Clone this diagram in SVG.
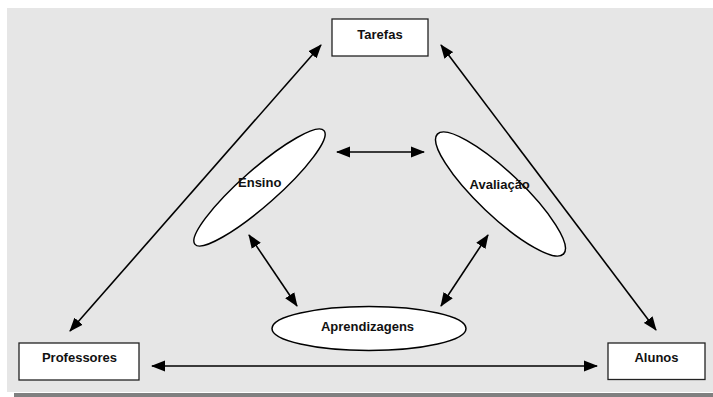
<svg xmlns="http://www.w3.org/2000/svg" width="713" height="397" viewBox="0 0 713 397">
<style>
.box{fill:#fff;stroke:#222;stroke-width:1.3}
.ell{fill:#fff;stroke:#000;stroke-width:1.5}
.lbl{font-family:"Liberation Sans",Arial,sans-serif;font-weight:bold;font-size:13px;fill:#111;text-anchor:middle}
.con{stroke:#000;stroke-width:1.6;fill:none;marker-start:url(#ah);marker-end:url(#ah)}
</style>
<defs>
<marker id="ah" markerUnits="userSpaceOnUse" markerWidth="15" markerHeight="12" refX="13" refY="5.5" orient="auto-start-reverse" viewBox="0 0 15 11">
<path d="M0,0 L14,5.5 L0,11 Z" fill="#000"/>
</marker>
</defs>
<rect x="7" y="8" width="706" height="384" fill="#e6e6e6"/>
<rect x="14" y="393" width="699" height="4" fill="#808080"/>
<g id="connectors">
<line class="con" x1="70" y1="331" x2="321" y2="45"/>
<line class="con" x1="441" y1="45" x2="656" y2="330"/>
<line class="con" x1="152" y1="366" x2="597" y2="366"/>
<line class="con" x1="337" y1="152" x2="424" y2="152"/>
<line class="con" x1="249" y1="235" x2="297" y2="306"/>
<line class="con" x1="488" y1="235" x2="441" y2="306"/>
</g>
<g id="tarefas">
<rect class="box" x="332" y="19" width="96" height="37"/>
<text class="lbl" x="380" y="38.5">Tarefas</text>
</g>
<g id="professores">
<rect class="box" x="19" y="343" width="120" height="37"/>
<text class="lbl" x="79.5" y="362.3">Professores</text>
</g>
<g id="alunos">
<rect class="box" x="608" y="343" width="97" height="36.5"/>
<text class="lbl" x="656.5" y="362.3">Alunos</text>
</g>
<g id="ensino">
<ellipse class="ell" cx="259.5" cy="187.5" rx="86" ry="18" transform="rotate(-41.4 259.5 187.5)"/>
<text class="lbl" x="259.7" y="186.7">Ensino</text>
</g>
<g id="avaliacao">
<ellipse class="ell" cx="500.5" cy="194" rx="87" ry="22" transform="rotate(43.5 500.5 194)"/>
<text class="lbl" x="499.7" y="189.3">Avaliação</text>
</g>
<g id="aprendizagens">
<ellipse class="ell" cx="369" cy="328.5" rx="97" ry="22"/>
<text class="lbl" x="367.5" y="331">Aprendizagens</text>
</g>
</svg>
